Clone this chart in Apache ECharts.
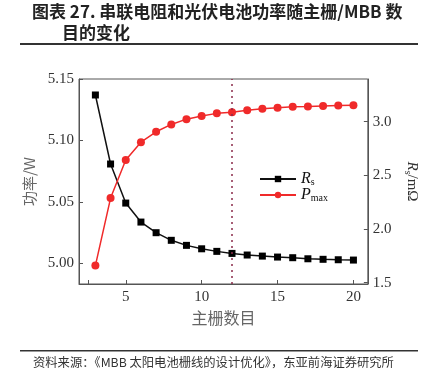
<!DOCTYPE html>
<html><head><meta charset="utf-8">
<script src="https://cdn.jsdelivr.net/npm/echarts@6/dist/echarts.min.js"></script>
<style>html,body{margin:0;padding:0;background:#fff}#c{width:427px;height:385px}</style>
</head><body><div id="c"></div>
<script>
const gridCounts = [3,4,5,6,7,8,9,10,11,12,13,14,15,16,17,18,19,20];
const rsValues = [3.249,2.606,2.242,2.065,1.966,1.895,1.848,1.816,1.792,1.773,1.758,1.748,1.739,1.733,1.723,1.718,1.714,1.711];
const pmaxValues = [4.998,5.053,5.084,5.0985,5.107,5.113,5.1173,5.1198,5.122,5.123,5.1246,5.1257,5.1265,5.1273,5.1276,5.1281,5.1284,5.1287];
const xTicks = [5,10,15,20];
const leftTicks = [5.00,5.05,5.10,5.15];
const rightTicks = [1.5,2.0,2.5,3.0];
const optimumGrid = 12;

const chart = echarts.init(document.getElementById('c'));
const serif = '"Liberation Serif","DejaVu Serif",serif';
const axisCol = '#555';
chart.setOption({
  animation:false,
  textStyle:{fontFamily:serif},
  graphic:[
    {type:'text',left:32,top:3,style:{text:'图表 27. 串联电阻和光伏电池功率随主栅/MBB 数',font:'bold 17px "Noto Sans CJK SC"',fill:'#222'}},
    {type:'text',left:62,top:24,style:{text:'目的变化',font:'bold 17px "Noto Sans CJK SC"',fill:'#222'}},
    {type:'rect',shape:{x:20,y:43,width:398,height:2},style:{fill:'#333'}},
    {type:'rect',shape:{x:20,y:350,width:398,height:1.5},style:{fill:'#333'}},
    {type:'text',left:33,top:356,style:{text:'资料来源：《MBB 太阳电池栅线的设计优化》，东亚前海证券研究所',font:'12.3px "Noto Sans CJK SC"',fill:'#333'}}
  ],
  grid:{left:79,right:53,top:79,bottom:101,show:true,borderColor:axisCol,borderWidth:1},
  legend:{
    orient:'vertical',left:254,top:166,itemWidth:36,itemHeight:8,itemGap:0,
    data:['Rs','Pmax'],
    formatter:function(n){return n==='Rs'?'{i|R}{s|s}':'{i|P}{s|max}';},
    textStyle:{rich:{i:{fontFamily:serif,fontStyle:'italic',fontSize:16,color:'#111',lineHeight:18},s:{fontFamily:serif,fontSize:10,color:'#111',padding:[6,0,0,0],lineHeight:18}}}
  },
  xAxis:{type:'value',min:1.92,max:20.95,
    name:'主栅数目',nameLocation:'middle',nameGap:21,
    nameTextStyle:{fontFamily:'"Noto Sans CJK SC"',fontSize:16,color:'#666'},
    axisLine:{lineStyle:{color:axisCol}},
    axisTick:{inside:true,length:4,lineStyle:{color:axisCol},customValues:[2.5].concat(xTicks)},
    axisLabel:{customValues:xTicks,fontSize:15,color:'#333',margin:6},
    splitLine:{show:false}},
  yAxis:[
    {type:'value',min:4.983,max:5.15,position:'left',
      name:'功率/W',nameLocation:'middle',nameGap:34,nameRotate:90,
      nameTextStyle:{fontFamily:'"Noto Sans CJK SC"',fontSize:15,color:'#666'},
      axisLine:{show:true,lineStyle:{color:axisCol}},
      axisTick:{show:true,inside:true,length:4,lineStyle:{color:axisCol},customValues:leftTicks},
      axisLabel:{customValues:leftTicks,fontSize:15,color:'#333',margin:5,formatter:v=>v.toFixed(2)},
      splitLine:{show:false}},
    {type:'value',min:1.488,max:3.398,position:'right',
      name:'{i|R}{s|s}{n|/mΩ}',nameLocation:'middle',nameGap:30,nameRotate:-90,
      nameTextStyle:{rich:{i:{fontFamily:serif,fontStyle:'italic',fontSize:15,color:'#333'},s:{fontFamily:serif,fontSize:10,color:'#333',padding:[8,0,0,0]},n:{fontFamily:serif,fontSize:15,color:'#333'}}},
      axisLine:{show:true,lineStyle:{color:axisCol}},
      axisTick:{show:true,inside:true,length:4,lineStyle:{color:axisCol},customValues:rightTicks},
      axisLabel:{customValues:rightTicks,fontSize:15,color:'#333',margin:5,formatter:v=>v.toFixed(1)},
      splitLine:{show:false}}
  ],
  series:[
    {name:'Rs',type:'line',yAxisIndex:1,data:gridCounts.map((x,i)=>[x,rsValues[i]]),
      symbol:'rect',symbolSize:7,itemStyle:{color:'#000'},lineStyle:{color:'#111',width:1.5},
      markLine:{silent:true,symbol:'none',label:{show:false},lineStyle:{color:'#8a2a4a',type:[2,4],width:1.5},data:[{xAxis:optimumGrid}]}},
    {name:'Pmax',type:'line',yAxisIndex:0,data:gridCounts.map((x,i)=>[x,pmaxValues[i]]),
      symbol:'circle',symbolSize:8,itemStyle:{color:'#f02a2a'},lineStyle:{color:'#f02a2a',width:1.5}}
  ]
});
</script></body></html>
